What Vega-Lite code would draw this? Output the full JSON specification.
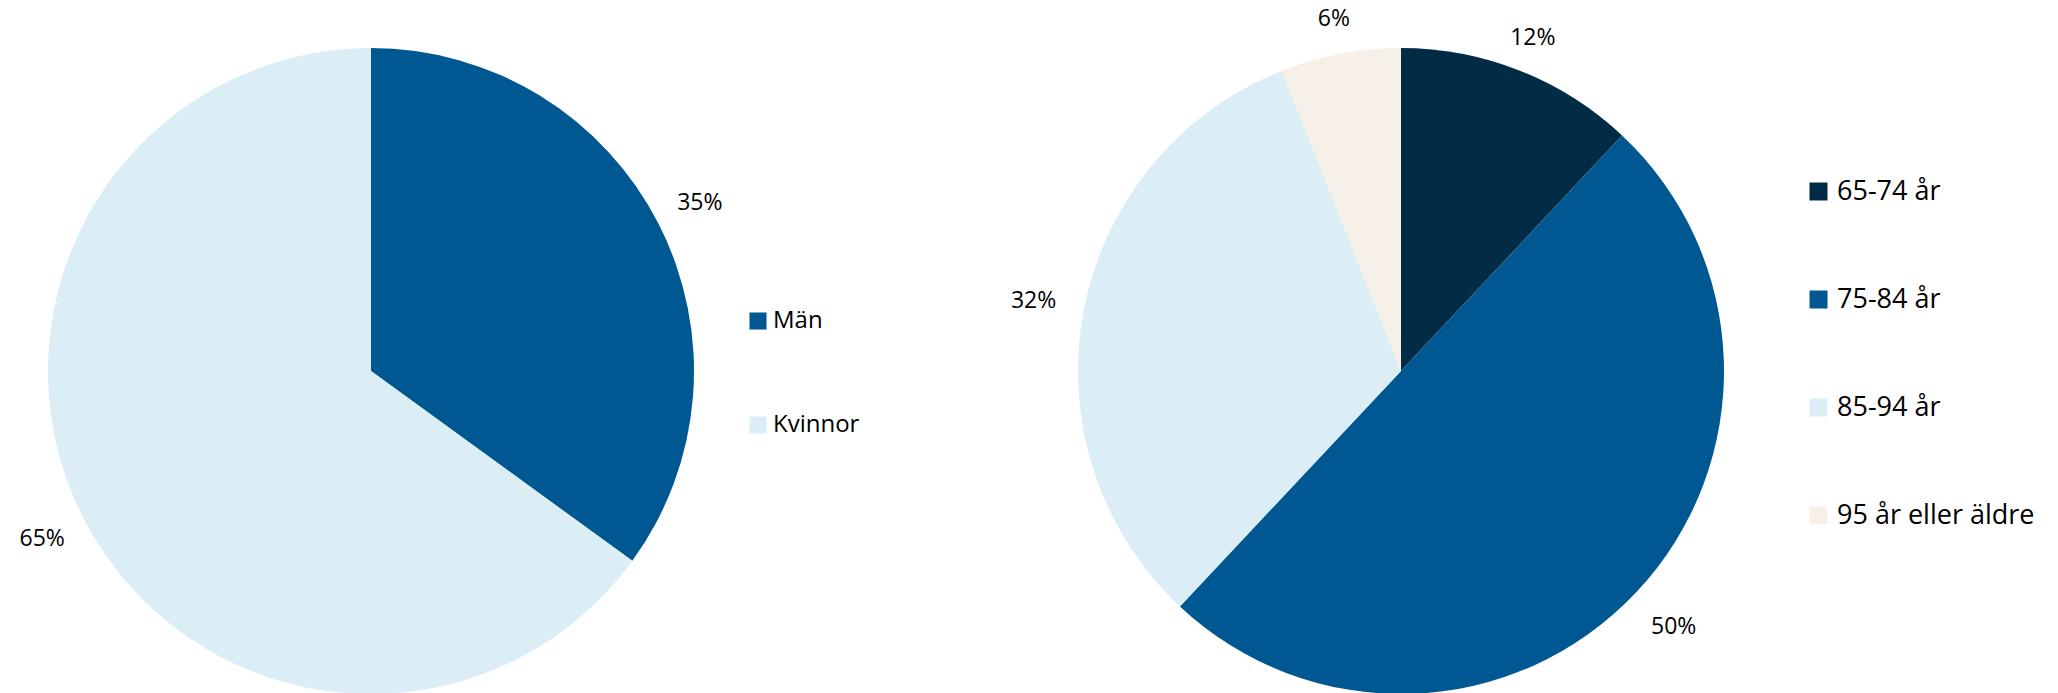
{
  "$schema": "https://vega.github.io/schema/vega-lite/v6.json",
  "padding": 0,
  "spacing": 150,
  "config": {
    "view": {"stroke": null},
    "font": "Open Sans",
    "legend": {
      "labelFont": "Open Sans",
      "labelFontSize": 24,
      "labelColor": "#000000",
      "labelLimit": 400,
      "symbolType": "square",
      "symbolSize": 290,
      "rowPadding": 80,
      "labelOffset": 3
    }
  },
  "resolve": {"scale": {"color": "independent", "theta": "independent"}},
  "hconcat": [
    {
      "width": 742,
      "height": 742,
      "data": {"values": [
        {"kategori": "Män", "andel": 35, "etikett": "35%", "o": 1},
        {"kategori": "Kvinnor", "andel": 65, "etikett": "65%", "o": 2}
      ]},
      "encoding": {
        "theta": {"field": "andel", "type": "quantitative", "stack": true},
        "order": {"field": "o", "type": "quantitative"}
      },
      "layer": [
        {
          "mark": {"type": "arc", "outerRadius": 323},
          "encoding": {
            "color": {
              "field": "kategori",
              "type": "nominal",
              "scale": {"domain": ["Män", "Kvinnor"], "range": ["#005892", "#DCEEF5"]},
              "legend": {"orient": "none", "legendX": 746, "legendY": 309, "title": null}
            }
          }
        },
        {
          "mark": {"type": "text", "radius": 369, "fontSize": 23, "color": "#000000", "font": "Open Sans"},
          "encoding": {"text": {"field": "etikett"}}
        }
      ]
    },
    {
      "width": 742,
      "height": 742,
      "data": {"values": [
        {"kategori": "65-74 år", "andel": 12, "etikett": "12%", "o": 1},
        {"kategori": "75-84 år", "andel": 50, "etikett": "50%", "o": 2},
        {"kategori": "85-94 år", "andel": 32, "etikett": "32%", "o": 3},
        {"kategori": "95 år eller äldre", "andel": 6, "etikett": "6%", "o": 4}
      ]},
      "transform": [
        {"stack": "andel", "groupby": [], "sort": [{"field": "o"}], "as": ["start", "end"]},
        {"calculate": "(datum.start + datum.end) / 2", "as": "mitt"}
      ],
      "layer": [
        {
          "mark": {"type": "arc", "outerRadius": 323},
          "encoding": {
            "theta": {"field": "start", "type": "quantitative", "scale": {"domain": [0, 100]}},
            "theta2": {"field": "end"},
            "color": {
              "field": "kategori",
              "type": "nominal",
              "scale": {"domain": ["65-74 år", "75-84 år", "85-94 år", "95 år eller äldre"], "range": ["#022B45", "#005892", "#DCEEF5", "#F7F0E8"]},
              "legend": {"orient": "none", "legendX": 775, "legendY": 178, "title": null, "labelFontSize": 27, "symbolSize": 324, "labelOffset": 5}
            }
          }
        },
        {
          "transform": [{"filter": "datum.andel >= 20"}],
          "mark": {"type": "text", "radius": 374, "fontSize": 23, "color": "#000000", "font": "Open Sans"},
          "encoding": {
            "theta": {"field": "mitt", "type": "quantitative", "stack": null, "scale": {"domain": [0, 100]}},
            "text": {"field": "etikett"}
          }
        },
        {
          "transform": [{"filter": "datum.andel < 20"}],
          "mark": {"type": "text", "radius": 358, "fontSize": 23, "color": "#000000", "font": "Open Sans"},
          "encoding": {
            "theta": {"field": "mitt", "type": "quantitative", "stack": null, "scale": {"domain": [0, 100]}},
            "text": {"field": "etikett"}
          }
        }
      ]
    }
  ]
}
